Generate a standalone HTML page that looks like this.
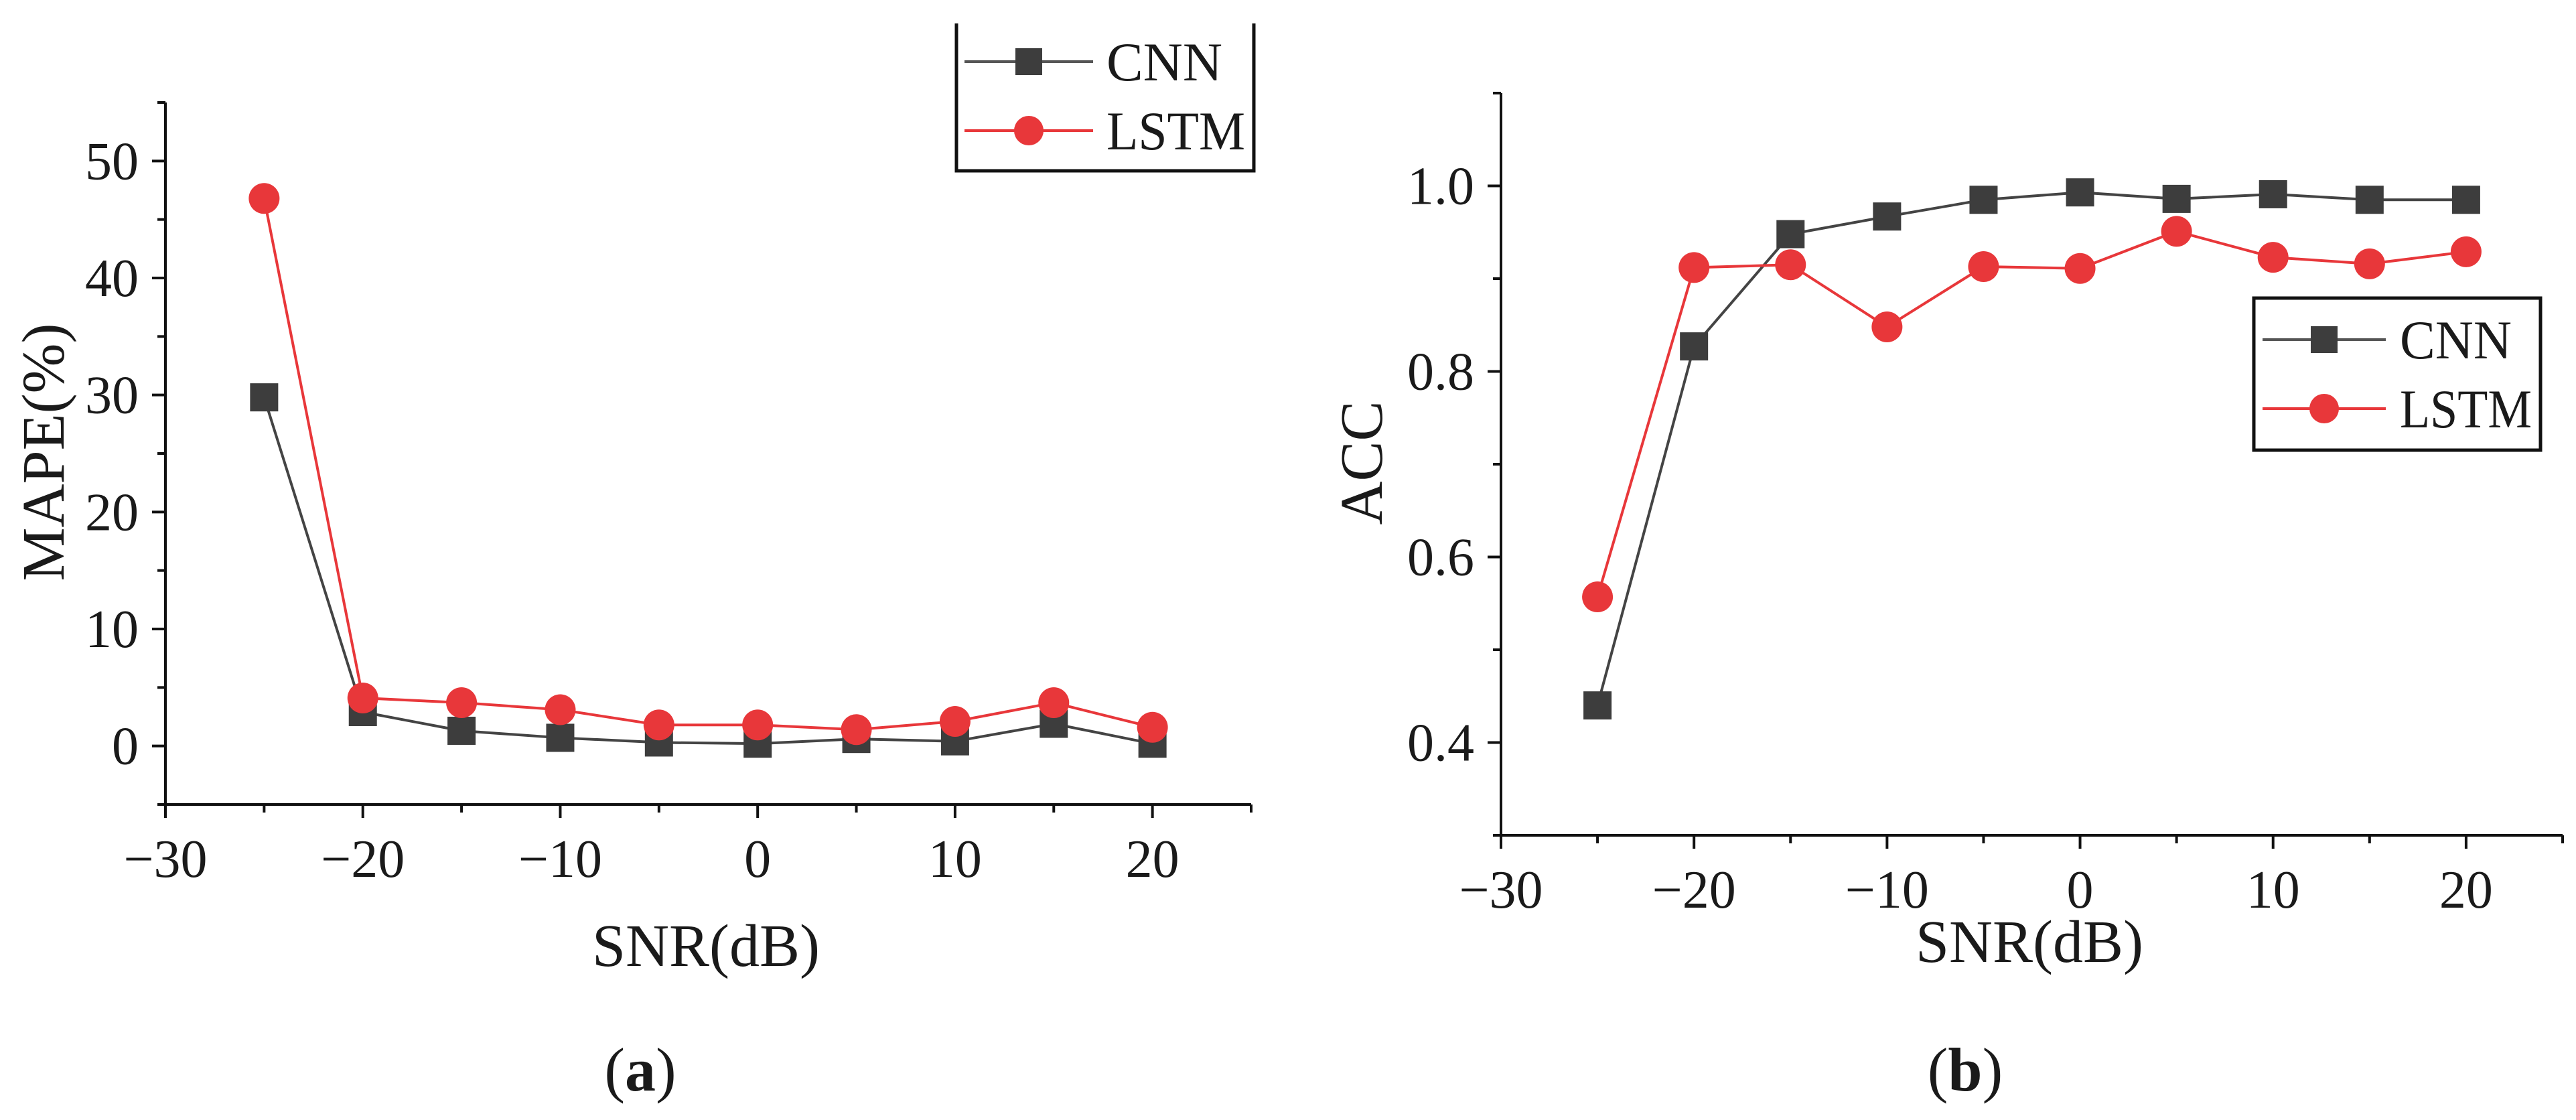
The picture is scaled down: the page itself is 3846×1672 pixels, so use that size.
<!DOCTYPE html>
<html><head><meta charset="utf-8"><style>
html,body{margin:0;padding:0;background:#fff;}
svg{display:block;}
text{font-family:"Liberation Serif",serif;fill:#1a1a1a;}
</style></head><body>
<svg id="fig" width="3846" height="1672" viewBox="0 0 3846 1672" xmlns="http://www.w3.org/2000/svg"></svg>
<script>
const categories = [-25,-20,-15,-10,-5,0,5,10,15,20];
const mapeCNN  = [29.8,2.9,1.3,0.7,0.3,0.2,0.6,0.4,1.9,0.2];
const mapeLSTM = [46.8,4.1,3.7,3.1,1.8,1.8,1.4,2.1,3.7,1.6];
const accCNN   = [0.44,0.827,0.948,0.967,0.985,0.993,0.986,0.991,0.985,0.985];
const accLSTM  = [0.557,0.912,0.915,0.848,0.913,0.911,0.951,0.923,0.916,0.929];
const xTicks = [-30,-20,-10,0,10,20];
const mapeTicks = [0,10,20,30,40,50];
const accTicks = [0.4,0.6,0.8,1.0];

const NS="http://www.w3.org/2000/svg";
const svg=document.getElementById('fig');
function mk(tag,attrs,parent){const e=document.createElementNS(NS,tag);for(const k in attrs)e.setAttribute(k,attrs[k]);(parent||svg).appendChild(e);return e;}

function panel(cfg){
  const g=mk('g',{});
  
  
  const X=v=>cfg.x0+(v-(-30))/(25-(-30))*(cfg.x1-cfg.x0);
  const Y=v=>cfg.y0-(v-cfg.ymin)/(cfg.ymax-cfg.ymin)*(cfg.y0-cfg.y1);
  const ax=mk('path',{d:`M${cfg.x0},${cfg.y1} V${cfg.y0} H${cfg.x1}`,fill:'none',stroke:'#111','stroke-width':4},g);
  
  
  for(let v=-30;v<=25;v+=5){
    const major=xTicks.includes(v);
    mk('line',{x1:X(v),x2:X(v),y1:cfg.y0,y2:cfg.y0+(major?20:12),stroke:'#111','stroke-width':4},g);
  }
  xTicks.forEach(v=>{
    const t=mk('text',{x:X(v),y:cfg.y0+108,'font-size':80,'text-anchor':'middle'},g);
    t.textContent=(v<0?'\u2212':'')+Math.abs(v);
    
    
  });
  for(let i=0;i<cfg.minor.length;i++){
    const v=cfg.minor[i];
    mk('line',{x1:cfg.x0,x2:cfg.x0-12,y1:Y(v),y2:Y(v),stroke:'#111','stroke-width':4},g);
  }
  cfg.yTicks.forEach(v=>{
    mk('line',{x1:cfg.x0,x2:cfg.x0-20,y1:Y(v),y2:Y(v),stroke:'#111','stroke-width':4},g);
    const t=mk('text',{x:cfg.x0-40,y:Y(v)+27,'font-size':80,'text-anchor':'end'},g);
    t.textContent=cfg.fmt(v);
    
    
  });
  const series=[{vals:cfg.cnn,color:'#444',mark:'sq',name:'cnn'},{vals:cfg.lstm,color:'#e8373a',mark:'ci',name:'lstm'}];
  series.forEach(s=>{
    const pts=categories.map((c,i)=>X(c)+','+Y(s.vals[i])).join(' ');
    const pl=mk('polyline',{points:pts,fill:'none',stroke:s.color,'stroke-width':4},g);
    
    
    categories.forEach((c,i)=>{
      let m;
      if(s.mark==='sq') m=mk('rect',{x:X(c)-21,y:Y(s.vals[i])-21,width:42,height:42,fill:'#3d3d3d'},g);
      else m=mk('circle',{cx:X(c),cy:Y(s.vals[i]),r:23,fill:'#e8373a'},g);
      
      
    });
  });
  const xt=mk('text',{x:cfg.xtX,y:cfg.xtY,'font-size':90,'text-anchor':'middle'},g);
  xt.textContent='SNR(dB)';
  
  
  const yt=mk('text',{x:0,y:0,'font-size':90,'text-anchor':'middle',transform:`translate(${cfg.ytX},${cfg.ytY}) rotate(-90)`},g);
  yt.textContent=cfg.ytitle;
  
  
  const L=cfg.leg;
  const lg=mk('g',{},g);
  
  
  mk('path',{d:L.open?`M${L.x},${L.y} V${L.y2} H${L.x2} V${L.y}`:`M${L.x},${L.y} V${L.y2} H${L.x2} V${L.y} Z`,fill:L.open?'none':'#fff',stroke:'#111','stroke-width':5},lg);
  [['CNN','#555','sq',L.r1,L.w1],['LSTM','#e8373a','ci',L.r2,L.w2]].forEach(([lab,col,mark,yy,w])=>{
    const e=mk('g',{},lg);
    
    
    mk('line',{x1:L.lx1,x2:L.lx2,y1:yy,y2:yy,stroke:col,'stroke-width':4},e);
    const mx=(L.lx1+L.lx2)/2;
    if(mark==='sq') mk('rect',{x:mx-20,y:yy-20,width:40,height:40,fill:'#3d3d3d'},e);
    else mk('circle',{cx:mx,cy:yy,r:22,fill:'#e8373a'},e);
    const t=mk('text',{x:L.tx,y:yy+28,'font-size':82,textLength:w,lengthAdjust:'spacingAndGlyphs'},e);
    t.textContent=lab;
  });
  const cap=mk('text',{x:cfg.capX,y:1628,'font-size':92,'text-anchor':'middle'},g);
  cap.innerHTML='(<tspan font-weight="bold">'+cfg.cap+'</tspan>)';
  
  
}

panel({name:'panel-a-mape',x0:247,x1:1868,y0:1201,y1:153,ymin:-5,ymax:55,
  yTicks:mapeTicks,minor:[-5,5,15,25,35,45,55],fmt:v=>String(v),cnn:mapeCNN,lstm:mapeLSTM,
  xtX:1054,xtY:1442,ytX:95,ytY:675,ytitle:'MAPE(%)',
  leg:{x:1428,y:35,x2:1872,y2:255,open:true,r1:92,r2:195,lx1:1440,lx2:1632,tx:1652,w1:173,w2:207},capX:956,cap:'a'});
panel({name:'panel-b-acc',x0:2241,x1:3826,y0:1247,y1:139,ymin:0.3,ymax:1.1,
  yTicks:accTicks,minor:[0.3,0.5,0.7,0.9,1.1],fmt:v=>v.toFixed(1),cnn:accCNN,lstm:accLSTM,
  xtX:3030,xtY:1436,ytX:2063,ytY:691,ytitle:'ACC',
  leg:{x:3365,y:445,x2:3793,y2:672,open:false,r1:507,r2:610,lx1:3378,lx2:3562,tx:3583,w1:167,w2:197},capX:2934,cap:'b'});
</script>
</body></html>
